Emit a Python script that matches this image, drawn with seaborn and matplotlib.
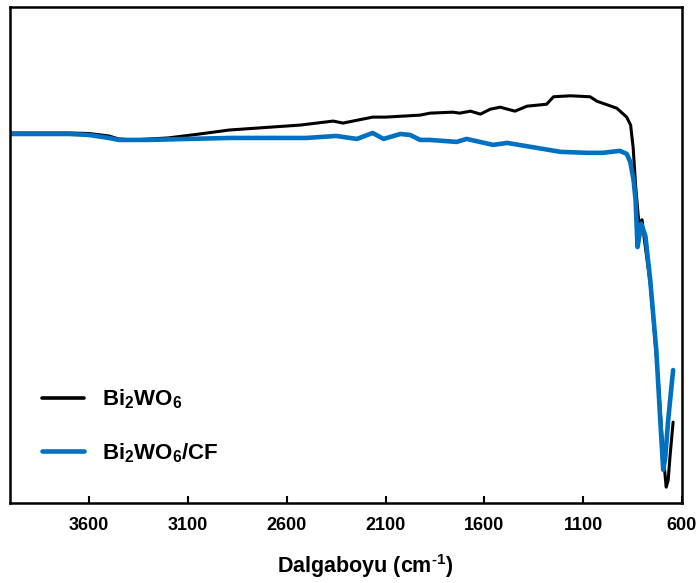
import matplotlib
matplotlib.use("Agg")
import matplotlib.pyplot as plt
import seaborn as sns
import pandas as pd

# ---- data ----
wn_bi = [4000, 3700, 3600, 3500, 3450, 3380, 3200, 3040, 2890, 2530, 2365, 2315,
         2165, 2100, 1925, 1875, 1760, 1725, 1670, 1620, 1570, 1520, 1445, 1385,
         1285, 1250, 1165, 1065, 1030, 930, 880, 860, 847, 835, 822, 815, 802,
         790, 760, 720, 695, 680, 670, 660, 645]
t_bi = [74.6, 74.6, 74.5, 74.0, 73.4, 73.2, 73.6, 74.4, 75.2, 76.2, 77.0, 76.6,
        77.8, 77.8, 78.2, 78.6, 78.8, 78.6, 79.0, 78.4, 79.4, 79.8, 79.0, 80.0,
        80.4, 81.9, 82.1, 81.9, 81.0, 79.6, 77.8, 76.2, 71.6, 64.1, 58.1, 56.0, 57.1,
        53.0, 44.0, 24.8, 9.7, 3.2, 4.6, 9.7, 16.3]

wn_cf = [4000, 3700, 3600, 3500, 3450, 3300, 3100, 2890, 2500, 2350, 2245, 2165,
         2110, 2025, 1975, 1925, 1875, 1740, 1690, 1555, 1485, 1335, 1215, 1080,
         1000, 915, 880, 862, 845, 835, 825, 815, 807, 795, 785, 761, 730, 710,
         695, 685, 670, 645]
t_cf = [74.4, 74.4, 74.2, 73.6, 73.2, 73.2, 73.4, 73.6, 73.6, 74.0, 73.4, 74.6,
        73.4, 74.4, 74.2, 73.2, 73.2, 72.8, 73.4, 72.2, 72.6, 71.6, 70.8, 70.6,
        70.6, 71.0, 70.4, 68.8, 65.1, 61.1, 51.6, 54.0, 56.3, 55.0, 53.8, 45.0,
        30.8, 16.7, 6.7, 9.1, 16.7, 26.8]

x_ticks = [3600, 3100, 2600, 2100, 1600, 1100, 600]
labels = [r"Bi$_{2}$WO$_{6}$", r"Bi$_{2}$WO$_{6}$/CF"]
colors = ["#000000", "#0070C0"]

df_bi = pd.DataFrame({"wn": wn_bi, "T": t_bi})
df_cf = pd.DataFrame({"wn": wn_cf, "T": t_cf})

sns.set_style("white")
plt.rcParams["font.family"] = ["Liberation Sans", "DejaVu Sans"]
plt.rcParams["font.weight"] = "bold"
plt.rcParams["text.color"] = "black"
plt.rcParams["axes.labelcolor"] = "black"
plt.rcParams["xtick.color"] = "black"
plt.rcParams["mathtext.fontset"] = "custom"
plt.rcParams["mathtext.rm"] = "Liberation Sans:bold"
plt.rcParams["mathtext.bf"] = "Liberation Sans:bold"
plt.rcParams["mathtext.it"] = "Liberation Sans:bold"
plt.rcParams["mathtext.default"] = "rm"

fig = plt.figure(figsize=(6.97, 5.83), dpi=100)
ax = fig.add_axes([10 / 697, 80 / 583, 672 / 697, 496 / 583])

sns.lineplot(data=df_bi, x="wn", y="T", ax=ax, sort=False, estimator=None,
             color=colors[0], linewidth=2.2, label=labels[0])
sns.lineplot(data=df_cf, x="wn", y="T", ax=ax, sort=False, estimator=None,
             color=colors[1], linewidth=3.3, label=labels[1])

ax.set_xlim(4000, 600)
ax.set_ylim(0, 100)
ax.set_xticks(x_ticks)
ax.set_xticklabels([str(t) for t in x_ticks], fontsize=13, fontweight="bold",
                   color="black")
ax.set_yticks([])
ax.tick_params(axis="x", direction="in", length=5, width=1.5, pad=10,
               bottom=True, top=False, colors="black")
ax.set_ylabel("")
for s in ax.spines.values():
    s.set_linewidth(1.8)
    s.set_color("black")

ax.set_xlabel(r"Dalgaboyu (cm$^{\text{-}1}$)", fontsize=15.5, fontweight="bold",
              va="center", color="black")
ax.xaxis.set_label_coords(0.528, -0.127)

leg = ax.legend(loc="center left", bbox_to_anchor=(0.048, 0.155), frameon=False,
                fontsize=16, handlelength=1.9, handletextpad=0.77,
                labelspacing=1.35, borderpad=0, borderaxespad=0)
for txt in leg.get_texts():
    txt.set_color("black")
for line in leg.get_lines():
    line.set_linewidth(3.3 if line.get_color() == colors[1] else 2.6)

fig.savefig("out.png", dpi=100)
